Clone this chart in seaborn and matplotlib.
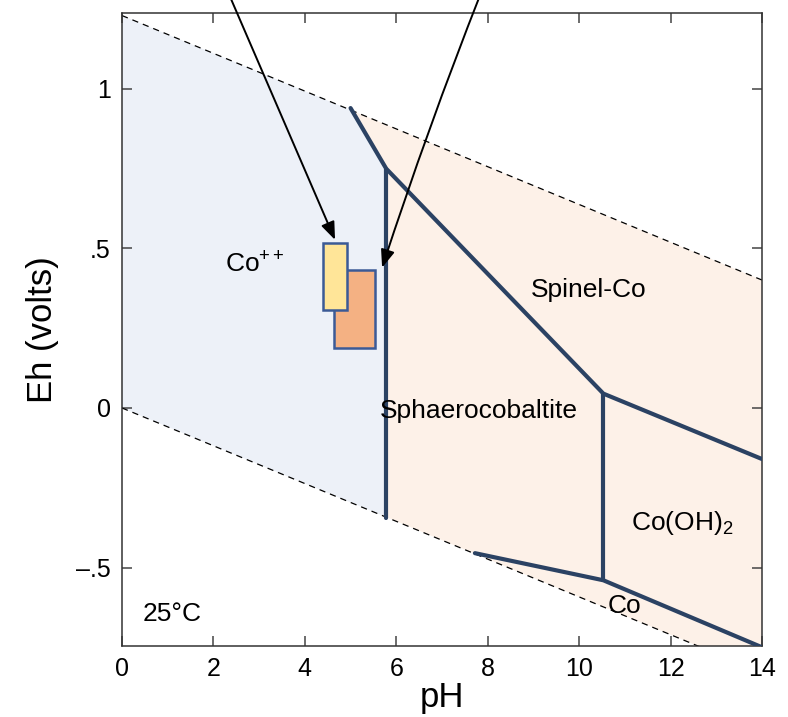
import numpy as np
import pandas as pd
import matplotlib
matplotlib.use("Agg")
import matplotlib.pyplot as plt
from matplotlib.patches import Polygon, Rectangle
import seaborn as sns

# ---- data ----
ph_water = [0, 14]
eh_water_upper = [1.23, 0.401]
eh_water_lower = [0.0, -0.829]

# stability boundaries (pH, Eh)
b1_ph = [5.0, 5.78, 10.53, 14.0]
b1_eh = [0.94, 0.75, 0.045, -0.16]
b2_ph = [5.78, 5.78]
b2_eh = [0.75, -0.345]
b3_ph = [10.53, 10.53]
b3_eh = [0.045, -0.54]
b4_ph = [7.72, 10.53, 14.0]
b4_eh = [-0.455, -0.54, -0.75]

# field polygons
co_field_ph = [0, 5.0, 5.78, 5.78, 0]
co_field_eh = [1.23, 0.934, 0.75, -0.342, 0.0]
min_field_ph = [5.0, 14, 14, 5.78, 5.78]
min_field_eh = [0.934, 0.401, -0.829, -0.342, 0.75]

# boxes: (pH left, pH right, Eh bottom, Eh top)
box_yellow = [4.40, 4.92, 0.307, 0.517]
box_orange = [4.64, 5.53, 0.188, 0.433]

labels = ["Co$^{\\mathrm{++}}$", "Spinel-Co", "Sphaerocobaltite", "Co(OH)$_{\\mathrm{2}}$", "Co", "25°C"]
label_ph = [2.9, 10.2, 7.8, 12.25, 11.0, 1.1]
label_eh = [0.45, 0.37, -0.01, -0.36, -0.62, -0.645]

xticks = [0, 2, 4, 6, 8, 10, 12, 14]
yticks = [-0.5, 0, 0.5, 1]
ytick_labels = ["\u2013.5", "0", ".5", "1"]

sns.set_theme(style="ticks")
plt.rcParams["font.family"] = ["Liberation Sans", "DejaVu Sans"]
plt.rcParams["mathtext.fontset"] = "custom"
plt.rcParams["mathtext.rm"] = "Liberation Sans"
plt.rcParams["mathtext.it"] = "Liberation Sans"

fig = plt.figure(figsize=(7.88, 7.17), dpi=100)
ax = fig.add_axes([122/788, 1-646/717, 640/788, 633/717])

ax.add_patch(Polygon(list(zip(co_field_ph, co_field_eh)), closed=True,
                     facecolor="#EDF1F8", edgecolor="none", zorder=0))
ax.add_patch(Polygon(list(zip(min_field_ph, min_field_eh)), closed=True,
                     facecolor="#FDF1E8", edgecolor="none", zorder=0))

water = pd.DataFrame({"pH": ph_water + ph_water,
                      "Eh": eh_water_upper + eh_water_lower,
                      "line": ["up", "up", "low", "low"]})
for name, g in water.groupby("line"):
    sns.lineplot(data=g, x="pH", y="Eh", ax=ax, color="black", lw=0.9,
                 linestyle=(0, (5, 4)), sort=False, estimator=None, zorder=2)

line_col = "#2B4263"
for px, py in [(b1_ph, b1_eh), (b2_ph, b2_eh), (b3_ph, b3_eh), (b4_ph, b4_eh)]:
    sns.lineplot(x=px, y=py, ax=ax, color=line_col, lw=3.0, sort=False,
                 estimator=None, zorder=3, solid_joinstyle="miter")

for b, fc in [(box_orange, "#F4B183"), (box_yellow, "#FFE598")]:
    ax.add_patch(Rectangle((b[0], b[2]), b[1]-b[0], b[3]-b[2], facecolor=fc,
                           edgecolor="#3B5A96", lw=1.8, zorder=4))

ax.annotate("", xy=(4.66, 0.527), xytext=(2.33, 1.30), annotation_clip=False,
            arrowprops=dict(arrowstyle="-|>,head_length=0.9,head_width=0.35",
                            color="black", lw=1.4, shrinkA=0, shrinkB=0), zorder=5)
ax.annotate("", xy=(5.69, 0.44), xytext=(7.85, 1.30), annotation_clip=False,
            arrowprops=dict(arrowstyle="-|>,head_length=0.9,head_width=0.35",
                            color="black", lw=1.4, shrinkA=0, shrinkB=0,
                            connectionstyle="arc3,rad=0.015"), zorder=5)

for t, x, y in zip(labels, label_ph, label_eh):
    ax.text(x, y, t, fontsize=19, ha="center", va="center", color="black", zorder=6)

ax.set_xlim(0, 14)
ax.set_ylim(-0.746, 1.238)
ax.set_xticks(xticks)
ax.set_yticks(yticks)
ax.set_yticklabels(ytick_labels)
ax.tick_params(direction="in", length=7, width=1.1, color="#444444", labelcolor="black",
               labelsize=18, top=True, right=True, labeltop=False, labelright=False, pad=8)
for s in ax.spines.values():
    s.set_color("#333333")
    s.set_linewidth(1.1)
ax.set_xlabel("pH", fontsize=25, labelpad=0, color="black")
ax.set_ylabel("Eh (volts)", fontsize=25, labelpad=12, color="black")

fig.savefig("out.png", dpi=100)
